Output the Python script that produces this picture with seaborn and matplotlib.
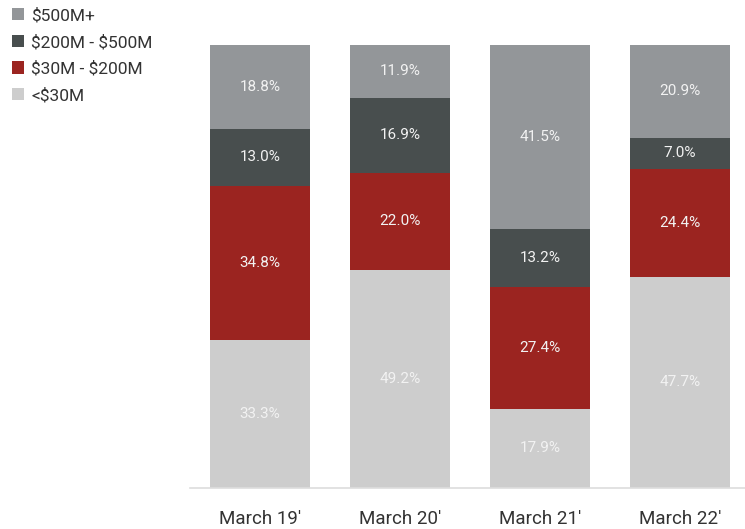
import numpy as np
import pandas as pd
import seaborn as sns
import matplotlib.pyplot as plt
from matplotlib.patches import Patch

years = ["March 19'", "March 20'", "March 21'", "March 22'"]
segments = ["<$30M", "$30M - $200M", "$200M - $500M", "$500M+"]
under_30 = [33.3, 49.2, 17.9, 47.7]
from_30_to_200 = [34.8, 22.0, 27.4, 24.4]
from_200_to_500 = [13.0, 16.9, 13.2, 7.0]
over_500 = [18.8, 11.9, 41.5, 20.9]

palette = {
    "<$30M": "#cdcdcd",
    "$30M - $200M": "#9b2420",
    "$200M - $500M": "#484e4e",
    "$500M+": "#939699",
}

df = pd.DataFrame({
    "Year": years,
    "<$30M": under_30,
    "$30M - $200M": from_30_to_200,
    "$200M - $500M": from_200_to_500,
    "$500M+": over_500,
})

sns.set_style("white")
plt.rcParams["font.family"] = ["Roboto", "DejaVu Sans"]

fig = plt.figure(figsize=(7.45, 5.29), dpi=100)
ax = fig.add_axes([0.255, 0.0775, 0.745, 0.8375])

# stack the segments bottom-up
bottom = np.zeros(len(years))
for seg in segments:
    sns.barplot(data=df, x="Year", y=seg, color=palette[seg], bottom=bottom,
                width=0.714, saturation=1, ax=ax, edgecolor="none")
    bottom = bottom + df[seg].to_numpy()

for cont in ax.containers:
    ax.bar_label(cont, labels=[f"{v:.1f}%" for v in cont.datavalues],
                 label_type="center", color="#f2f2f2", fontsize=11)

ax.set_ylim(0, 100)
ax.set_xlim(-0.5, 3.464)
ax.set_xlabel("")
ax.set_ylabel("")
ax.set_yticks([])
for side in ["top", "right", "left"]:
    ax.spines[side].set_visible(False)
ax.spines["bottom"].set_color("#dddddd")
ax.spines["bottom"].set_linewidth(1.2)
ax.tick_params(axis="x", length=0, pad=16, labelsize=13.5, labelcolor="#333333")

handles = [Patch(facecolor=palette[s], edgecolor="none") for s in segments[::-1]]
labels = [s.replace("$", r"\$") for s in segments[::-1]]
fig.legend(handles, labels, loc="upper left", bbox_to_anchor=(0.0, 1.008),
           frameon=False, fontsize=12.5, labelcolor="#333333",
           handlelength=0.7, handleheight=0.7, handletextpad=0.4, labelspacing=0.64,
           borderaxespad=0.3)

fig.savefig("out.png", dpi=100)
